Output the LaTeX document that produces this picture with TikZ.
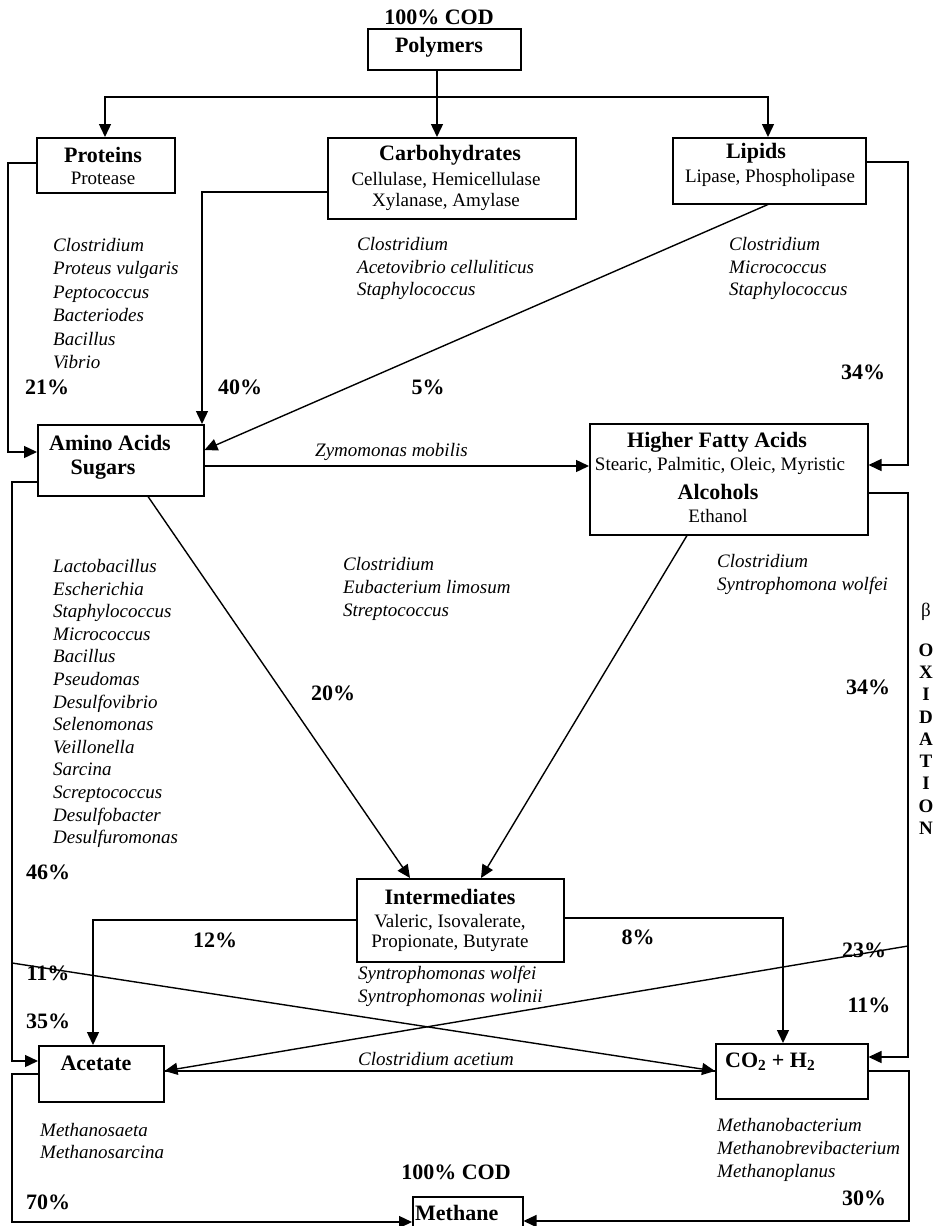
\documentclass[tikz,border=0pt]{standalone}
\usepackage{fontspec}
\setmainfont{Liberation Serif}
\usetikzlibrary{arrows.meta}
\begin{document}
\begin{tikzpicture}[x=1pt,y=-1pt,
  box/.style={draw, line width=1.5pt, inner sep=0pt, anchor=north west},
  conn/.style={line width=1.4pt},
  arr/.style={conn, -{Triangle[length=13pt,width=12pt]}},
  bl/.style={font=\fontsize{22}{24}\selectfont\bfseries, inner sep=0pt},
  rg/.style={font=\fontsize{19}{22}\selectfont, inner sep=0pt},
  sp/.style={font=\fontsize{19}{22.6}\selectfont\itshape, inner sep=0pt, align=left, anchor=west},
  spw/.style={sp, font=\fontsize{19}{23.4}\selectfont\itshape},
  oxi/.style={font=\fontsize{19}{22.25}\selectfont\bfseries, inner sep=0pt, align=center}
]
\useasboundingbox (0,0) rectangle (938,1226);

% boxes
\node[box, minimum width=153pt, minimum height=41pt] (poly) at (367,28) {};
\node[box, minimum width=138pt, minimum height=55pt] (prot) at (36,137) {};
\node[box, minimum width=248pt, minimum height=81pt] (carb) at (327,137) {};
\node[box, minimum width=193pt, minimum height=66pt] (lip) at (672,137) {};
\node[box, minimum width=166pt, minimum height=71pt] (amino) at (37,424) {};
\node[box, minimum width=278pt, minimum height=111pt] (hfa) at (589,423) {};
\node[box, minimum width=207pt, minimum height=83pt] (inter) at (356,878) {};
\node[box, minimum width=125pt, minimum height=56pt] (acet) at (38,1045) {};
\node[box, minimum width=152pt, minimum height=55pt] (co2) at (715,1043) {};
\node[box, minimum width=110pt, minimum height=45pt] (meth) at (412,1196) {};

% box texts
\node[bl] (codtop) at (439,17) {100\% COD};
\node[bl] (tpoly) at (439,47) {Polymers};
\node[bl] (tprot) at (103,155) {Proteins};
\node[rg] (tprot2) at (103,178) {Protease};
\node[bl] (tcarb) at (450,155) {Carbohydrates};
\node[rg] (tcarb2) at (446,180) {Cellulase, Hemicellulase};
\node[rg] (tcarb3) at (446,202) {Xylanase, Amylase};
\node[bl] (tlip) at (756,153) {Lipids};
\node[rg] (tlip2) at (770,178) {Lipase, Phospholipase};
\node[bl] (tam1) at (110,443) {Amino Acids};
\node[bl] (tam2) at (103,470) {Sugars};
\node[bl] (thfa1) at (717,442) {Higher Fatty Acids};
\node[rg] (thfa2) at (720,466) {Stearic, Palmitic, Oleic, Myristic};
\node[bl] (thfa3) at (718,492) {Alcohols};
\node[rg] (thfa4) at (718,516) {Ethanol};
\node[bl] (tint1) at (450,897) {Intermediates};
\node[rg] (tint2) at (450,922) {Valeric, Isovalerate,};
\node[rg] (tint3) at (450,943) {Propionate, Butyrate};
\node[bl] (tacet) at (96,1063) {Acetate};
\node[bl, anchor=west] (tco2) at (725,1062) {CO\textsubscript{2} + H\textsubscript{2}};
\node[bl, anchor=west] (tmeth) at (415,1213) {Methane};
\node[bl] (codbot) at (456,1172) {100\% COD};

% species lists
\node[spw] (sp1) at (53,303.5) {Clostridium\\Proteus vulgaris\\Peptococcus\\Bacteriodes\\Bacillus\\Vibrio};
\node[sp] (sp2) at (357,268.5) {Clostridium\\Acetovibrio celluliticus\\Staphylococcus};
\node[sp] (sp3) at (729,268.5) {Clostridium\\Micrococcus\\Staphylococcus};
\node[sp] (sp4) at (53,703.5) {Lactobacillus\\Escherichia\\Staphylococcus\\Micrococcus\\Bacillus\\Pseudomas\\Desulfovibrio\\Selenomonas\\Veillonella\\Sarcina\\Screptococcus\\Desulfobacter\\Desulfuromonas};
\node[sp] (sp5) at (343,589) {Clostridium\\Eubacterium limosum\\Streptococcus};
\node[sp] (sp6) at (717,574.5) {Clostridium\\Syntrophomona wolfei};
\node[sp] (sp7) at (358,986.5) {Syntrophomonas wolfei\\Syntrophomonas wolinii};
\node[sp] (sp8) at (40,1141) {Methanosaeta\\Methanosarcina};
\node[sp] (sp9) at (717,1150) {Methanobacterium\\Methanobrevibacterium\\Methanoplanus};
\node[sp] (zym) at (315,452) {Zymomonas mobilis};
\node[sp] (cla) at (358,1059) {Clostridium acetium};

% percentages
\node[bl] (p21) at (47,387) {21\%};
\node[bl] (p40) at (240,387) {40\%};
\node[bl] (p5) at (428,387) {5\%};
\node[bl] (p34a) at (863,372) {34\%};
\node[bl] (p20) at (333,693) {20\%};
\node[bl] (p34b) at (868,687) {34\%};
\node[bl] (p46) at (48,872) {46\%};
\node[bl] (p12) at (215,940) {12\%};
\node[bl] (p8) at (638,937) {8\%};
\node[bl] (p11a) at (48,973) {11\%};
\node[bl] (p23) at (864,950) {23\%};
\node[bl] (p11b) at (869,1005) {11\%};
\node[bl] (p35) at (48,1021) {35\%};
\node[bl] (p70) at (48,1202) {70\%};
\node[bl] (p30) at (864,1198) {30\%};

% beta oxidation
\node[rg] (beta) at (926,612) {β};
\node[oxi] (oxid) at (926,739) {O\\X\\I\\D\\A\\T\\I\\O\\N};

% connectors
\coordinate (split) at (437,97);
\draw[arr] (poly.south -| 437,0) -- (carb.north -| 437,0);
\draw[arr] (split) -| (prot.north -| 105,0);
\draw[arr] (split) -| (lip.north -| 768,0);
\draw[arr] (prot.west |- 0,163) -- (8,163) |- (amino.west |- 0,452);
\draw[arr] (carb.west |- 0,192) -| (amino.north -| 202,0);
\draw[arr] (lip.south -| 768,0) -- (amino.east |- 0,450);
\draw[arr] (lip.east |- 0,162) -- (908,162) |- (hfa.east |- 0,465);
\draw[arr] (amino.east |- 0,466) -- (hfa.west |- 0,466);
\draw[arr] (amino.south -| 148,0) -- (inter.north -| 410,0);
\draw[arr] (hfa.south -| 687,0) -- (inter.north -| 481,0);
\draw[arr] (hfa.east |- 0,493) -- (908,493) |- (co2.east |- 0,1057);
\draw[arr] (amino.west |- 0,482) -- (12,482) |- (acet.west |- 0,1061);
\draw[arr] (inter.west |- 0,920) -| (acet.north -| 93,0);
\draw[arr] (inter.east |- 0,918) -| (co2.north -| 783,0);
\coordinate (a1) at (12,963);
\coordinate (b1) at (908,946);
\draw[arr] (a1) -- (co2.west |- 0,1071);
\draw[arr] (b1) -- (acet.east |- 0,1071);
\draw[conn] (acet.east |- 0,1071) -- (co2.west |- 0,1071);
\draw[arr] (co2.east |- 0,1071) -- (909,1071) |- (meth.east |- 0,1221);
\draw[arr] (acet.west |- 0,1074) -- (12,1074) |- (meth.west |- 0,1222);
\end{tikzpicture}
\end{document}
